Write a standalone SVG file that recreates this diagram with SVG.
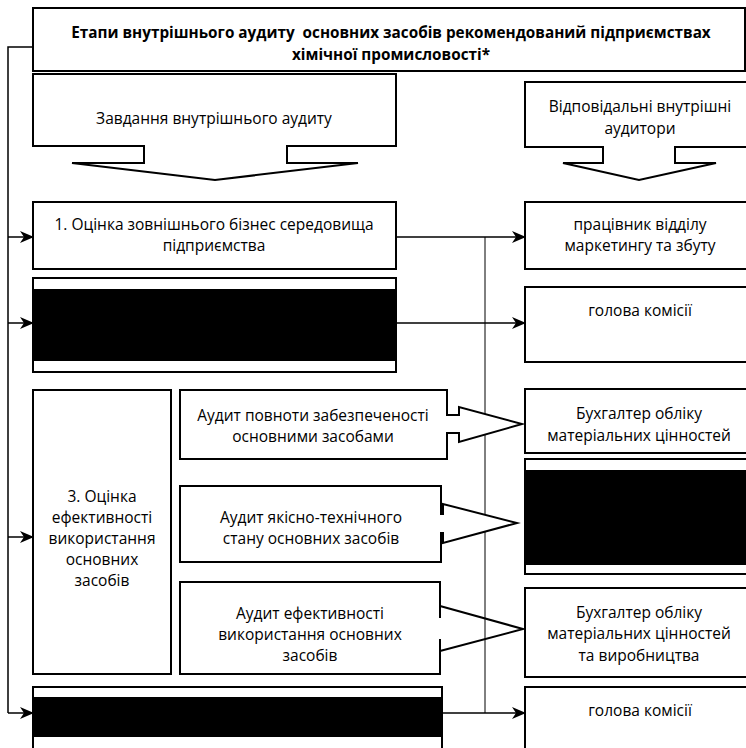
<svg xmlns="http://www.w3.org/2000/svg" width="746" height="748" viewBox="0 0 746 748">
<defs>
<marker id="ah" markerWidth="14" markerHeight="12" refX="13" refY="6" orient="auto" markerUnits="userSpaceOnUse">
<path d="M0,0 L14,6 L0,12 L4,6 z" fill="#000"/>
</marker>
<style>
.box{fill:#fff;stroke:#000;stroke-width:2}
.edge{fill:none;stroke:#000;stroke-width:2}
.blk{fill:#000}
.t{font-family:"Open Sans","Liberation Sans",sans-serif;font-size:15.5px;fill:#000;text-anchor:middle;dominant-baseline:central}
.tb{font-family:"Open Sans","Liberation Sans",sans-serif;font-size:15.3px;font-weight:bold;fill:#000;text-anchor:middle;dominant-baseline:central;white-space:pre}
.c{fill:none;stroke:#000;stroke-width:1.5}
.thin{fill:none;stroke:#000;stroke-width:1}
</style>
</defs>
<rect width="746" height="748" fill="#fff"/>

<g id="connectors">
<polyline class="c" points="33,47 8,47 8,713"/>
<line class="c" x1="8" y1="237" x2="33" y2="237" marker-end="url(#ah)"/>
<line class="c" x1="8" y1="323" x2="33" y2="323" marker-end="url(#ah)"/>
<line class="c" x1="8" y1="537" x2="33" y2="537" marker-end="url(#ah)"/>
<line class="c" x1="8" y1="713" x2="33" y2="713" marker-end="url(#ah)"/>
<line class="c" x1="396" y1="237" x2="525" y2="237" marker-end="url(#ah)"/>
<line class="c" x1="396" y1="323" x2="525" y2="323" marker-end="url(#ah)"/>
<line class="c" x1="442" y1="713" x2="525" y2="713" marker-end="url(#ah)"/>
<line class="thin" x1="485" y1="237" x2="485" y2="713"/>
</g>

<g id="title">
<rect class="box" x="33" y="8" width="712" height="63"/>
<text class="tb" x="391" y="32" xml:space="preserve">Етапи внутрішнього аудиту  основних засобів рекомендований підприємствах</text>
<text class="tb" x="391" y="54">хімічної промисловості*</text>
</g>

<g id="tasks">
<path class="box" d="M33,74 H396 V146 H287 V163 H358 L215,180 L72,163 H144 V146 H33 Z"/>
<text class="t" x="214" y="118">Завдання внутрішнього аудиту</text>
</g>

<g id="auditors">
<path class="box" d="M525,82 H752 V147 H675 V163 H716 L639,180 L563,163 H603 V147 H525 Z"/>
<text class="t" x="640" y="106">Відповідальні внутрішні</text>
<text class="t" x="640" y="128">аудитори</text>
</g>

<g id="stage1">
<rect class="box" x="33" y="202" width="363" height="67"/>
<text class="t" x="214" y="224">1. Оцінка зовнішнього бізнес середовища</text>
<text class="t" x="214" y="245">підприємства</text>
</g>

<g id="stage2">
<rect class="box" x="33" y="278" width="363" height="94"/>
<rect class="blk" x="33" y="289" width="363" height="72"/>
</g>

<g id="stage3">
<rect class="box" x="33" y="390" width="138" height="284"/>
<text class="t" x="102" y="496">3. Оцінка</text>
<text class="t" x="102" y="517">ефективності</text>
<text class="t" x="102" y="538">використання</text>
<text class="t" x="102" y="559">основних</text>
<text class="t" x="102" y="580">засобів</text>
</g>

<g id="audit1">
<path class="box" d="M180,390 H447 V415 H459 V407 L522,424 L459,442 V433 H447 V459 H180 Z"/>
<text class="t" x="313" y="415">Аудит повноти забезпеченості</text>
<text class="t" x="313" y="436">основними засобами</text>
</g>

<g id="audit2">
<path class="box" d="M180,486 H441 V514 H443 V504 L517,523 L443,543 V533 H441 V562 H180 Z"/>
<text class="t" x="311" y="517">Аудит якісно-технічного</text>
<text class="t" x="311" y="538">стану основних засобів</text>
</g>

<g id="audit3">
<rect x="180" y="582" width="260" height="92" fill="#fff"/>
<path class="edge" d="M440,618 V582 H180 V674 H440 V639"/>
<polyline class="edge" points="440,606 523,629 440,651"/>
<text class="t" x="310" y="613">Аудит ефективності</text>
<text class="t" x="310" y="634">використання основних</text>
<text class="t" x="310" y="655">засобів</text>
</g>

<g id="stage4">
<rect class="box" x="33" y="687" width="409" height="80"/>
<rect class="blk" x="33" y="697" width="409" height="40"/>
</g>

<g id="r1">
<rect class="box" x="525" y="202" width="227" height="67"/>
<text class="t" x="640" y="224">працівник відділу</text>
<text class="t" x="640" y="245">маркетингу та збуту</text>
</g>

<g id="r2">
<rect class="box" x="525" y="287" width="227" height="75"/>
<text class="t" x="640" y="310">голова комісії</text>
</g>

<g id="r3">
<rect class="box" x="525" y="389" width="227" height="64"/>
<text class="t" x="639" y="413">Бухгалтер обліку</text>
<text class="t" x="639" y="435">матеріальних цінностей</text>
</g>

<g id="r4">
<rect class="box" x="525" y="459" width="227" height="115"/>
<rect class="blk" x="525" y="470" width="227" height="95"/>
</g>

<g id="r5">
<rect class="box" x="525" y="588" width="227" height="89"/>
<text class="t" x="639" y="612">Бухгалтер обліку</text>
<text class="t" x="639" y="633">матеріальних цінностей</text>
<text class="t" x="639" y="655">та виробництва</text>
</g>

<g id="r6">
<rect class="box" x="525" y="687" width="227" height="80"/>
<text class="t" x="640" y="710">голова комісії</text>
</g>
</svg>
